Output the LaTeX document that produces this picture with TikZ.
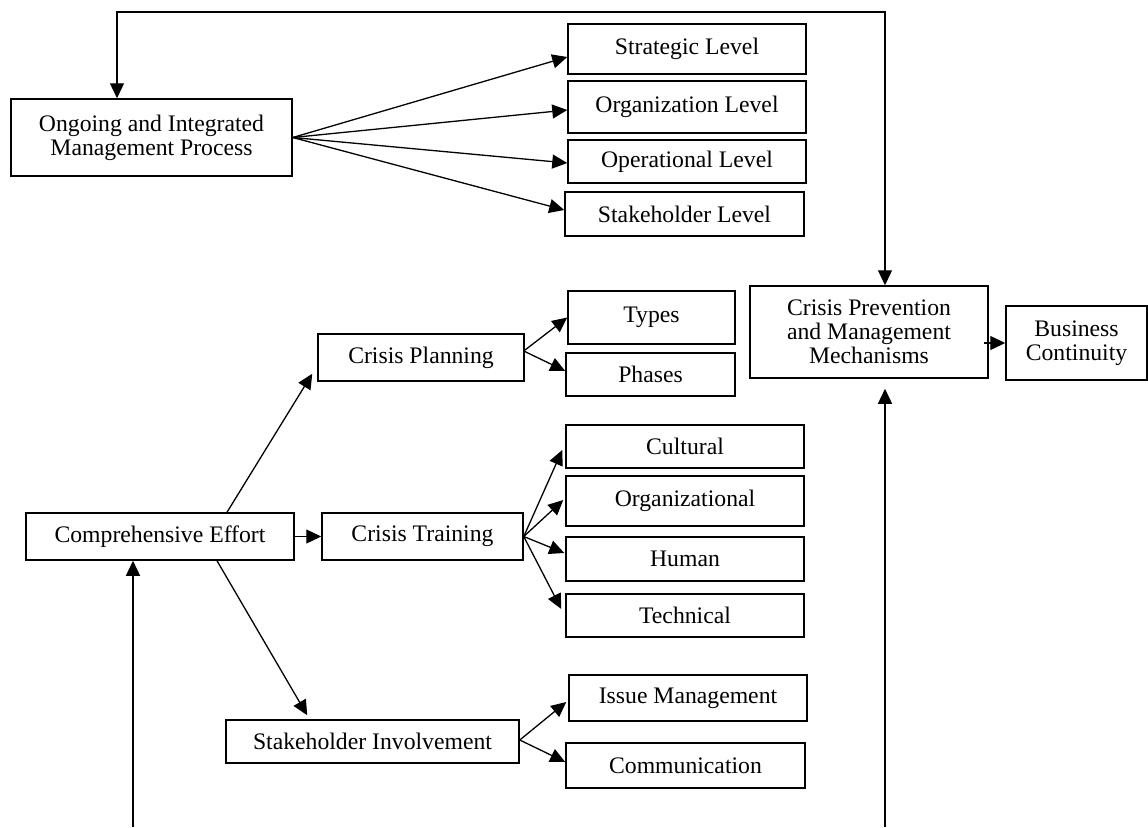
\documentclass[tikz,border=0pt]{standalone}
\usepackage{fontspec}
\setmainfont{Liberation Serif}
\usetikzlibrary{arrows.meta,calc}
\tikzset{
  box/.style={draw=black, line width=1.5pt, inner sep=0pt, align=center,
    font=\fontsize{23.7}{24}\selectfont},
  arr/.style={draw=black, line width=1.3pt, -{Triangle[length=15pt,width=14pt]}},
  darr/.style={draw=black, line width=1.3pt, {Triangle[length=15pt,width=14pt]}-{Triangle[length=15pt,width=14pt]}}
}
\begin{document}
\begin{tikzpicture}[x=1pt,y=-1pt]
\useasboundingbox (0,0) rectangle (1148,827);
% boxes
\node[box, minimum width=281pt, minimum height=77pt] (oimp) at (151.5,137.5) {Ongoing and Integrated\\Management Process};
\node[box, minimum width=238pt, minimum height=50pt] (strat) at (687,49) {Strategic Level};
\node[box, minimum width=238pt, minimum height=52pt] (orgl) at (687,107) {Organization Level};
\node[box, minimum width=238pt, minimum height=43pt] (oper) at (687,161.5) {Operational Level};
\node[box, minimum width=239pt, minimum height=44pt] (stakel) at (684.5,214) {Stakeholder Level};
\node[box, minimum width=238pt, minimum height=92pt] (cpm) at (869,332) {Crisis Prevention\\and Management\\Mechanisms};
\node[box, minimum width=141pt, minimum height=74pt] (bc) at (1076.5,343) {Business\\Continuity};
\node[box, minimum width=167pt, minimum height=53pt] (types) at (651.5,317.5) {Types};
\node[box, minimum width=169pt, minimum height=43pt] (phases) at (650.5,374.5) {Phases};
\node[box, minimum width=206pt, minimum height=47pt] (cp) at (421,357.5) {Crisis Planning};
\node[box, minimum width=268pt, minimum height=47pt] (ce) at (160,536.5) {Comprehensive Effort};
\node[box, minimum width=201pt, minimum height=47pt] (ct) at (422.5,536.5) {Crisis Training};
\node[box, minimum width=238pt, minimum height=43pt] (cult) at (685,446.5) {Cultural};
\node[box, minimum width=238pt, minimum height=50pt] (orgz) at (685,501) {Organizational};
\node[box, minimum width=238pt, minimum height=44pt] (human) at (685,559) {Human};
\node[box, minimum width=238pt, minimum height=43pt] (tech) at (685,615.5) {Technical};
\node[box, minimum width=293pt, minimum height=43pt] (si) at (372.5,741.5) {Stakeholder Involvement};
\node[box, minimum width=238pt, minimum height=46pt] (issue) at (688,698) {Issue Management};
\node[box, minimum width=239pt, minimum height=45pt] (comm) at (685.5,765.5) {Communication};
% free ends of the feedback lines
\coordinate (topL) at (117,12);
\coordinate (topR) at (885,12);
\coordinate (botL) at (133,827);
\coordinate (botR) at (885,827);
% management process fan
\draw[arr] (oimp.east) -- ($(strat.west)+(0,8)$);
\draw[arr] (oimp.east) -- ($(orgl.west)+(0,3)$);
\draw[arr] (oimp.east) -- ($(oper.west)+(0,1.5)$);
\draw[arr] (oimp.east) -- ($(stakel.west)+(0,-4)$);
% feedback top
\draw[darr] (topL |- oimp.north) -- (topL) -- (topR) -- (topR |- cpm.north);
% bottom feedback
\draw[arr] (botL) -- (botL |- ce.south);
\draw[arr] (botR) -- ($(botR |- cpm.south)+(0,10)$);
% cpm -> bc
\draw[arr] ($(cpm.east |- bc.west)+(-5,0)$) -- (bc.west);
% comprehensive effort
\draw[arr] ($(ce.north)+(67,0)$) -- ($(cp.south west)+(-5,-8)$);
\draw[arr] ($(ce.east)+(-2,0)$) -- (ct.west);
\draw[arr] ($(ce.south)+(57,0)$) -- ($(si.north west)+(82,-4)$);
% crisis planning
\draw[arr] ($(cp.east)+(-1,-6.5)$) -- (types.west);
\draw[arr] ($(cp.east)+(-1,-6.5)$) -- ($(phases.west)+(0,-3.5)$);
% crisis training
\draw[arr] (ct.east) -- ($(cult.west)+(-3,3.5)$);
\draw[arr] (ct.east) -- ($(orgz.west)+(-2,-1)$);
\draw[arr] (ct.east) -- ($(human.west)+(-1,-6)$);
\draw[arr] (ct.east) -- ($(tech.west)+(-4,-6.5)$);
% stakeholder involvement
\draw[arr] ($(si.east)+(0,-1.5)$) -- ($(issue.west)+(-2,4)$);
\draw[arr] ($(si.east)+(0,-1.5)$) -- ($(comm.west)+(0,-3.5)$);
\end{tikzpicture}
\end{document}
